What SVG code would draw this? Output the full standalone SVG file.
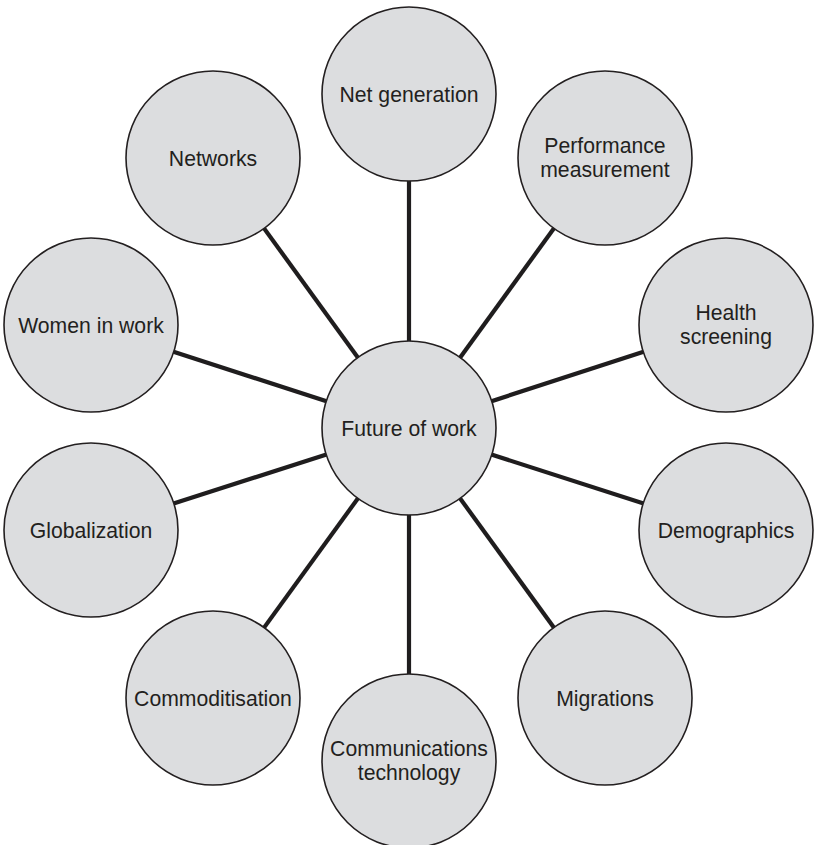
<svg xmlns="http://www.w3.org/2000/svg" width="814" height="845" viewBox="0 0 814 845">
<style>
.node circle{fill:#dcdddf;stroke:#231f20;stroke-width:1.6}
.node text{font-family:"Liberation Sans",Arial,sans-serif;font-size:21.2px;fill:#231f20;text-anchor:middle}
.conn line{stroke:#1f1d1e;stroke-width:4.2}
</style>
<rect width="814" height="845" fill="#fff"/>
<g id="connectors" class="conn">
<line x1="409" y1="428" x2="409" y2="94"/>
<line x1="409" y1="428" x2="605" y2="158"/>
<line x1="409" y1="428" x2="726" y2="325"/>
<line x1="409" y1="428" x2="726" y2="530"/>
<line x1="409" y1="428" x2="605" y2="698"/>
<line x1="409" y1="428" x2="409" y2="761"/>
<line x1="409" y1="428" x2="213" y2="698"/>
<line x1="409" y1="428" x2="91" y2="530"/>
<line x1="409" y1="428" x2="91" y2="325"/>
<line x1="409" y1="428" x2="213" y2="158"/>
</g>
<g id="n-net" class="node"><circle cx="409" cy="94" r="87"/><text x="409" y="102">Net generation</text></g>
<g id="n-perf" class="node"><circle cx="605" cy="158" r="87"/><text x="605" y="153">Performance</text><text x="605" y="177">measurement</text></g>
<g id="n-health" class="node"><circle cx="726" cy="325" r="87"/><text x="726" y="320">Health</text><text x="726" y="344">screening</text></g>
<g id="n-demo" class="node"><circle cx="726" cy="530" r="87"/><text x="726" y="538">Demographics</text></g>
<g id="n-migr" class="node"><circle cx="605" cy="698" r="87"/><text x="605" y="706">Migrations</text></g>
<g id="n-comm" class="node"><circle cx="409" cy="761" r="87"/><text x="409" y="756">Communications</text><text x="409" y="780">technology</text></g>
<g id="n-commod" class="node"><circle cx="213" cy="698" r="87"/><text x="213" y="706">Commoditisation</text></g>
<g id="n-glob" class="node"><circle cx="91" cy="530" r="87"/><text x="91" y="538">Globalization</text></g>
<g id="n-women" class="node"><circle cx="91" cy="325" r="87"/><text x="91" y="333">Women in work</text></g>
<g id="n-networks" class="node"><circle cx="213" cy="158" r="87"/><text x="213" y="166">Networks</text></g>
<g id="n-center" class="node"><circle cx="409" cy="428" r="87"/><text x="409" y="436">Future of work</text></g>
</svg>
